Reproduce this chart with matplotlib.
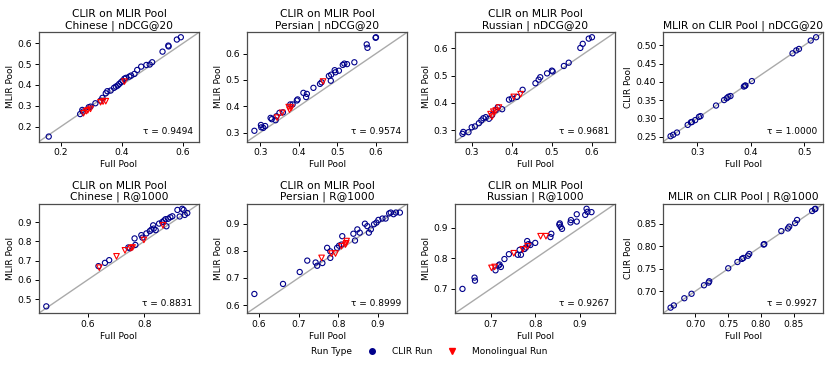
import matplotlib
matplotlib.use("Agg")
import matplotlib.pyplot as plt
from matplotlib.lines import Line2D
from matplotlib.ticker import MultipleLocator
import numpy as np

# ---- data: (full pool score, reduced pool score) per run ----
# Chinese nDCG@20
zh_ndcg_clir_x = [0.160, 0.263, 0.272, 0.270, 0.291, 0.297, 0.313, 0.330, 0.336, 0.347, 0.352, 0.363,
                  0.374, 0.380, 0.386, 0.391, 0.397, 0.402, 0.408, 0.413, 0.424, 0.430, 0.441, 0.450,
                  0.463, 0.480, 0.491, 0.499, 0.533, 0.552, 0.553, 0.580, 0.593]
zh_ndcg_clir_y = [0.152, 0.260, 0.272, 0.280, 0.293, 0.296, 0.312, 0.325, 0.338, 0.360, 0.370, 0.373,
                  0.386, 0.392, 0.397, 0.405, 0.413, 0.420, 0.430, 0.434, 0.440, 0.445, 0.453, 0.472,
                  0.488, 0.496, 0.498, 0.509, 0.560, 0.589, 0.585, 0.618, 0.629]
zh_ndcg_mono_x = [0.274, 0.283, 0.288, 0.297, 0.330, 0.338, 0.347, 0.408]
zh_ndcg_mono_y = [0.264, 0.274, 0.278, 0.285, 0.317, 0.320, 0.322, 0.416]

# Persian nDCG@20
fa_ndcg_clir_x = [0.285, 0.302, 0.303, 0.313, 0.308, 0.327, 0.330, 0.340, 0.342, 0.350, 0.359, 0.378,
                  0.384, 0.395, 0.397, 0.412, 0.421, 0.419, 0.438, 0.455, 0.459, 0.478, 0.483, 0.484,
                  0.493, 0.495, 0.504, 0.514, 0.518, 0.525, 0.544, 0.576, 0.578, 0.599, 0.600]
fa_ndcg_clir_y = [0.307, 0.329, 0.320, 0.325, 0.318, 0.356, 0.351, 0.347, 0.362, 0.375, 0.377, 0.407,
                  0.407, 0.422, 0.426, 0.451, 0.447, 0.435, 0.470, 0.485, 0.491, 0.515, 0.497, 0.520,
                  0.537, 0.529, 0.535, 0.557, 0.562, 0.560, 0.567, 0.635, 0.622, 0.660, 0.662]
fa_ndcg_mono_x = [0.344, 0.357, 0.374, 0.376, 0.381, 0.463]
fa_ndcg_mono_y = [0.357, 0.375, 0.397, 0.387, 0.395, 0.494]

# Russian nDCG@20
ru_ndcg_clir_x = [0.277, 0.279, 0.292, 0.300, 0.308, 0.318, 0.324, 0.329, 0.335, 0.343, 0.351, 0.360,
                  0.365, 0.376, 0.393, 0.400, 0.413, 0.427, 0.459, 0.467, 0.471, 0.488, 0.500, 0.502,
                  0.530, 0.542, 0.571, 0.577, 0.592, 0.600]
ru_ndcg_clir_y = [0.287, 0.294, 0.293, 0.311, 0.314, 0.326, 0.336, 0.344, 0.348, 0.342, 0.356, 0.374,
                  0.384, 0.377, 0.412, 0.416, 0.422, 0.448, 0.472, 0.485, 0.494, 0.508, 0.518, 0.515,
                  0.535, 0.547, 0.601, 0.616, 0.635, 0.640]
ru_ndcg_mono_x = [0.347, 0.351, 0.354, 0.360, 0.368, 0.405, 0.422]
ru_ndcg_mono_y = [0.359, 0.350, 0.368, 0.372, 0.383, 0.422, 0.432]

# MLIR on CLIR pool nDCG@20
ml_ndcg_x = [0.250, 0.255, 0.262, 0.282, 0.288, 0.290, 0.296, 0.303, 0.306, 0.335, 0.350, 0.355,
             0.358, 0.362, 0.387, 0.389, 0.390, 0.402, 0.478, 0.485, 0.490, 0.512, 0.522]
ml_ndcg_y = [0.251, 0.255, 0.261, 0.282, 0.289, 0.290, 0.295, 0.304, 0.306, 0.335, 0.350, 0.355,
             0.359, 0.361, 0.387, 0.389, 0.390, 0.402, 0.478, 0.486, 0.490, 0.513, 0.522]

# Chinese R@1000
zh_r_clir_x = [0.453, 0.638, 0.661, 0.676, 0.744, 0.749, 0.769, 0.766, 0.790, 0.794, 0.808, 0.820,
               0.826, 0.834, 0.832, 0.841, 0.853, 0.864, 0.871, 0.876, 0.879, 0.885, 0.893, 0.900,
               0.918, 0.926, 0.935, 0.940, 0.944, 0.953]
zh_r_clir_y = [0.462, 0.671, 0.688, 0.702, 0.768, 0.764, 0.781, 0.815, 0.832, 0.819, 0.841, 0.853,
               0.861, 0.866, 0.883, 0.858, 0.892, 0.900, 0.908, 0.915, 0.878, 0.917, 0.925, 0.930,
               0.963, 0.929, 0.969, 0.963, 0.937, 0.947]
zh_r_mono_x = [0.641, 0.702, 0.732, 0.753, 0.759, 0.799, 0.867]
zh_r_mono_y = [0.663, 0.722, 0.753, 0.764, 0.768, 0.807, 0.883]

# Persian R@1000
fa_r_clir_x = [0.589, 0.661, 0.703, 0.722, 0.743, 0.747, 0.760, 0.772, 0.780, 0.780, 0.797, 0.802,
               0.808, 0.810, 0.838, 0.842, 0.848, 0.854, 0.867, 0.873, 0.877, 0.882, 0.890, 0.896,
               0.901, 0.911, 0.919, 0.928, 0.932, 0.939, 0.945, 0.955]
fa_r_clir_y = [0.641, 0.678, 0.722, 0.764, 0.757, 0.745, 0.755, 0.811, 0.798, 0.774, 0.811, 0.819,
               0.823, 0.854, 0.863, 0.838, 0.879, 0.867, 0.900, 0.891, 0.867, 0.879, 0.898, 0.904,
               0.914, 0.919, 0.919, 0.938, 0.941, 0.935, 0.941, 0.941]
fa_r_mono_x = [0.758, 0.783, 0.793, 0.808, 0.818, 0.821, 0.820]
fa_r_mono_y = [0.774, 0.790, 0.790, 0.817, 0.823, 0.836, 0.828]

# Russian R@1000
ru_r_clir_x = [0.637, 0.664, 0.665, 0.711, 0.718, 0.720, 0.723, 0.731, 0.741, 0.761, 0.765, 0.768,
               0.776, 0.779, 0.782, 0.785, 0.789, 0.800, 0.834, 0.836, 0.854, 0.855, 0.857, 0.860,
               0.879, 0.880, 0.893, 0.893, 0.912, 0.915, 0.917, 0.926]
ru_r_clir_y = [0.700, 0.737, 0.727, 0.761, 0.777, 0.780, 0.772, 0.798, 0.814, 0.812, 0.828, 0.812,
               0.831, 0.836, 0.857, 0.847, 0.844, 0.851, 0.870, 0.881, 0.911, 0.915, 0.904, 0.897,
               0.918, 0.926, 0.921, 0.945, 0.943, 0.963, 0.953, 0.952]
ru_r_mono_x = [0.702, 0.709, 0.752, 0.772, 0.783, 0.812, 0.824]
ru_r_mono_y = [0.769, 0.772, 0.817, 0.830, 0.840, 0.873, 0.873]

# MLIR on CLIR pool R@1000
ml_r_x = [0.662, 0.667, 0.683, 0.694, 0.713, 0.720, 0.721, 0.750, 0.764, 0.771, 0.773, 0.780,
          0.782, 0.804, 0.805, 0.831, 0.841, 0.843, 0.852, 0.855, 0.878, 0.882, 0.883]
ml_r_y = [0.663, 0.668, 0.684, 0.694, 0.713, 0.719, 0.722, 0.751, 0.765, 0.772, 0.774, 0.779,
          0.783, 0.804, 0.805, 0.834, 0.840, 0.844, 0.852, 0.859, 0.879, 0.883, 0.884]

taus = ["0.9494", "0.9574", "0.9681", "1.0000", "0.8831", "0.8999", "0.9267", "0.9927"]

panels = [
    ("CLIR on MLIR Pool\nChinese | nDCG@20", zh_ndcg_clir_x, zh_ndcg_clir_y, zh_ndcg_mono_x, zh_ndcg_mono_y, "MLIR Pool", 0.2, 0.1),
    ("CLIR on MLIR Pool\nPersian | nDCG@20", fa_ndcg_clir_x, fa_ndcg_clir_y, fa_ndcg_mono_x, fa_ndcg_mono_y, "MLIR Pool", 0.1, 0.1),
    ("CLIR on MLIR Pool\nRussian | nDCG@20", ru_ndcg_clir_x, ru_ndcg_clir_y, ru_ndcg_mono_x, ru_ndcg_mono_y, "MLIR Pool", 0.1, 0.1),
    ("MLIR on CLIR Pool | nDCG@20", ml_ndcg_x, ml_ndcg_y, [], [], "CLIR Pool", 0.1, 0.05),
    ("CLIR on MLIR Pool\nChinese | R@1000", zh_r_clir_x, zh_r_clir_y, zh_r_mono_x, zh_r_mono_y, "MLIR Pool", 0.2, 0.1),
    ("CLIR on MLIR Pool\nPersian | R@1000", fa_r_clir_x, fa_r_clir_y, fa_r_mono_x, fa_r_mono_y, "MLIR Pool", 0.1, 0.1),
    ("CLIR on MLIR Pool\nRussian | R@1000", ru_r_clir_x, ru_r_clir_y, ru_r_mono_x, ru_r_mono_y, "MLIR Pool", 0.1, 0.1),
    ("MLIR on CLIR Pool | R@1000", ml_r_x, ml_r_y, [], [], "CLIR Pool", 0.05, 0.05),
]

blue = "#00008B"
red = "#FF0000"

fig, axes = plt.subplots(2, 4, figsize=(8.3, 3.67), dpi=100)
fig.subplots_adjust(left=0.047, right=0.992, top=0.912, bottom=0.147, wspace=0.3, hspace=0.57)

for ax, (title, cx, cy, mx, my, ylab, xstep, ystep), tau in zip(axes.flat, panels, taus):
    allv = np.concatenate([cx, cy, mx, my])
    lo, hi = allv.min(), allv.max()
    pad = 0.05 * (hi - lo)
    lims = (lo - pad, hi + pad)
    ax.plot(lims, lims, color="#aaaaaa", lw=1, zorder=1)
    ax.scatter(cx, cy, s=14, facecolors="none", edgecolors=blue, linewidths=0.8, zorder=2)
    if len(mx):
        ax.scatter(mx, my, s=16, marker="v", facecolors="none", edgecolors=red, linewidths=0.8, zorder=3)
    ax.set_xlim(lims)
    ax.set_ylim(lims)
    ax.xaxis.set_major_locator(MultipleLocator(xstep))
    ax.yaxis.set_major_locator(MultipleLocator(ystep))
    ax.set_title(title, fontsize=7.7, pad=3, linespacing=1.1)
    ax.set_xlabel("Full Pool", fontsize=6.5, labelpad=2)
    ax.set_ylabel(ylab, fontsize=6.5, labelpad=2)
    ax.tick_params(labelsize=6.6, length=3, width=0.7, pad=2)
    for sp in ax.spines.values():
        sp.set_color("0.3")
        sp.set_linewidth(0.9)
    ax.text(0.96, 0.05, "τ = " + tau, transform=ax.transAxes, ha="right", va="bottom", fontsize=6.5)

handles = [Line2D([], [], linestyle="none"),
           Line2D([], [], marker="o", linestyle="none", color=blue, markersize=4),
           Line2D([], [], marker="v", linestyle="none", color=red, markersize=4)]
labels = ["Run Type", "CLIR Run", "Monolingual Run"]
fig.legend(handles, labels, loc="center", bbox_to_anchor=(0.5, 0.042), ncol=3, frameon=False,
           fontsize=6.5, handletextpad=1.2, columnspacing=1.2)

fig.savefig("out.png", dpi=100)
